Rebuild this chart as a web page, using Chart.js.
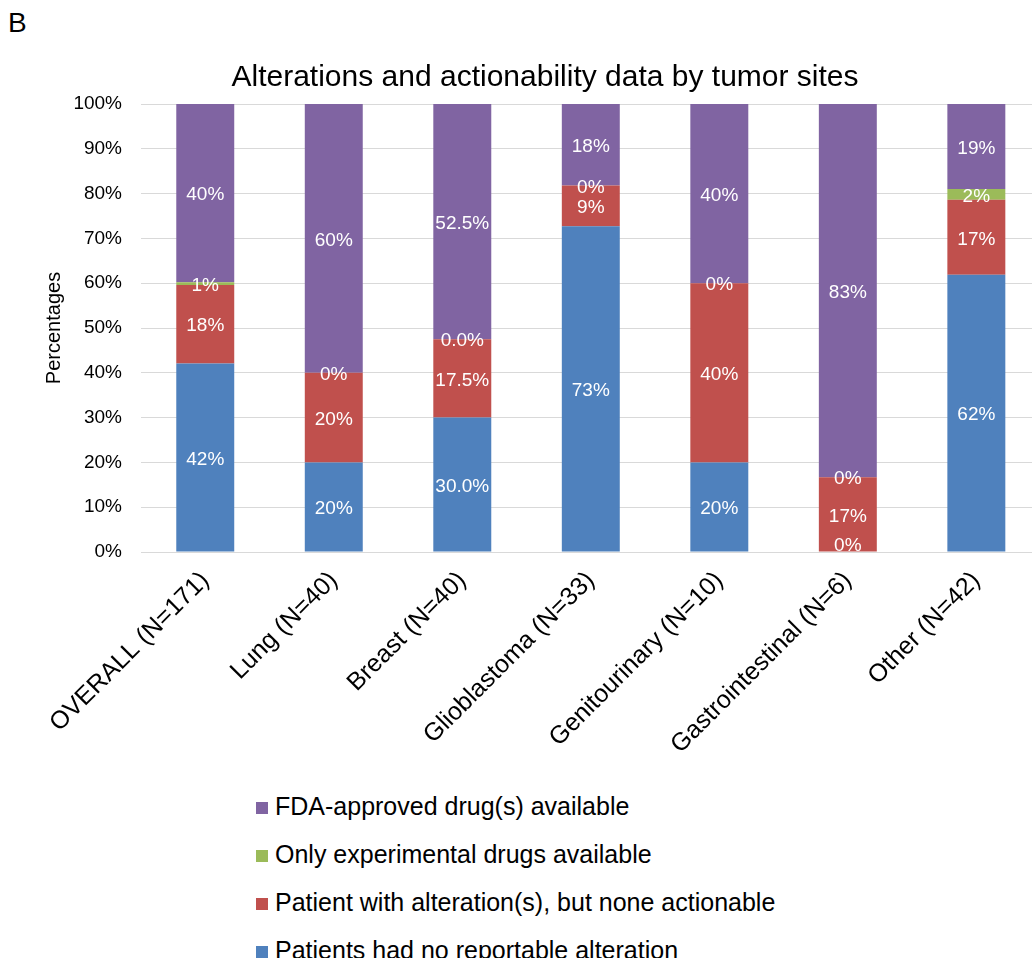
<!DOCTYPE html>
<html>
<head>
<meta charset="utf-8">
<script src="https://cdn.jsdelivr.net/npm/chart.js@4/dist/chart.umd.min.js"></script>
<style>
  html, body { margin: 0; padding: 0; background: #fff; }
  #page { position: relative; width: 1032px; height: 958px; overflow: hidden; background: #fff;
          font-family: "Liberation Sans", Arial, sans-serif; color: #000; }
  #panel { position: absolute; left: 8px; top: 9px; font-size: 28px; line-height: 1; }
  #chartBox { position: absolute; left: 0; top: 0; width: 1060px; height: 780px; }
  #legend { position: absolute; left: 256px; top: 782px; }
  .row { position: relative; height: 48px; white-space: nowrap; }
  .swatch { position: absolute; left: 0; top: 20px; width: 12px; height: 12px; }
  .text { position: absolute; left: 19px; top: 0; font-size: 25px; line-height: 48px; }
</style>
</head>
<body>
<div id="page">
  <div id="panel">B</div>
  <div id="chartBox"><canvas id="chart" width="1060" height="780"></canvas></div>
  <div id="legend"></div>
</div>
<script>
// Tumor sites (x categories)
const categories = [
  'OVERALL (N=171)', 'Lung (N=40)', 'Breast (N=40)', 'Glioblastoma (N=33)',
  'Genitourinary (N=10)', 'Gastrointestinal (N=6)', 'Other (N=42)'
];
// Percentage of patients per outcome, stacked bottom to top
const noAlteration     = [42.1, 20, 30.0, 72.7, 20, 0,    61.9];
const notActionable    = [17.5, 20, 17.5, 9.1,  40, 16.7, 16.7];
const experimentalOnly = [0.6,  0,  0.0,  0,    0,  0,    2.4];
const fdaApproved      = [39.8, 60, 52.5, 18.2, 40, 83.3, 19.0];
// Decimal places shown in each column's value labels
const labelDecimals = [0, 0, 1, 0, 0, 0, 0];

const seriesNames = [
  'Patients had no reportable alteration',
  'Patient with alteration(s), but none actionable',
  'Only experimental drugs available',
  'FDA-approved drug(s) available'
];
const seriesColors = ['#4F81BD', '#C0504D', '#9BBB59', '#8064A2'];
const seriesData = [noAlteration, notActionable, experimentalOnly, fdaApproved];

const FONT = '"Liberation Sans", Arial, sans-serif';

// Writes each segment's percentage in the middle of its bar piece
const valueLabels = {
  id: 'valueLabels',
  afterDatasetsDraw(chart) {
    const { ctx, chartArea } = chart;
    ctx.save();
    ctx.font = '19px ' + FONT;
    ctx.fillStyle = '#ffffff';
    ctx.textAlign = 'center';
    ctx.textBaseline = 'middle';
    chart.data.datasets.forEach((ds, di) => {
      chart.getDatasetMeta(di).data.forEach((bar, i) => {
        const v = ds.data[i];
        const p = bar.getCenterPoint();
        const y = Math.min(p.y + 2, chartArea.bottom - 6);
        ctx.fillText(v.toFixed(labelDecimals[i]) + '%', p.x, y);
      });
    });
    ctx.restore();
  }
};

const chart = new Chart(document.getElementById('chart'), {
  type: 'bar',
  data: {
    labels: categories,
    datasets: seriesData.map((d, k) => ({
      label: seriesNames[k],
      data: d,
      backgroundColor: seriesColors[k],
      borderWidth: 0,
      categoryPercentage: 1,
      barPercentage: 0.451
    }))
  },
  options: {
    responsive: false,
    animation: false,
    devicePixelRatio: 1,
    layout: { padding: { left: 49.4, right: 19.4, top: 0, bottom: 0 } },
    plugins: {
      legend: { display: false },
      tooltip: { enabled: false },
      title: {
        display: true,
        text: 'Alterations and actionability data by tumor sites',
        color: '#000',
        font: { family: FONT, size: 30, weight: 'normal' },
        padding: { top: 60, bottom: 8 }
      }
    },
    scales: {
      x: {
        stacked: true,
        grid: { display: false, drawTicks: false },
        border: { display: true, color: '#d9d9d9', width: 1 },
        ticks: {
          autoSkip: false, maxRotation: 45, minRotation: 45, padding: 14,
          color: '#000', font: { family: FONT, size: 25 }
        },
        afterFit(scale) { scale.height = 228; }
      },
      y: {
        stacked: true,
        min: 0, max: 100,
        grid: { color: '#d9d9d9', lineWidth: 1, drawTicks: false },
        border: { display: false },
        ticks: {
          stepSize: 10, padding: 19, color: '#000',
          font: { family: FONT, size: 19 },
          callback: v => v + '%'
        },
        title: {
          display: true, text: 'Percentages', color: '#000',
          font: { family: FONT, size: 20 },
          padding: { top: -7, bottom: 0 }
        },
        afterFit(scale) { scale.width = 91.6; }
      }
    }
  },
  plugins: [valueLabels]
});

// Legend list, top series first
const legendEl = document.getElementById('legend');
const items = Chart.defaults.plugins.legend.labels.generateLabels(chart).slice().reverse();
items.forEach(it => {
  const row = document.createElement('div');
  row.className = 'row';
  const sw = document.createElement('span');
  sw.className = 'swatch';
  sw.style.background = it.fillStyle;
  const tx = document.createElement('span');
  tx.className = 'text';
  tx.textContent = it.text;
  row.appendChild(sw);
  row.appendChild(tx);
  legendEl.appendChild(row);
});
</script>
</body>
</html>
